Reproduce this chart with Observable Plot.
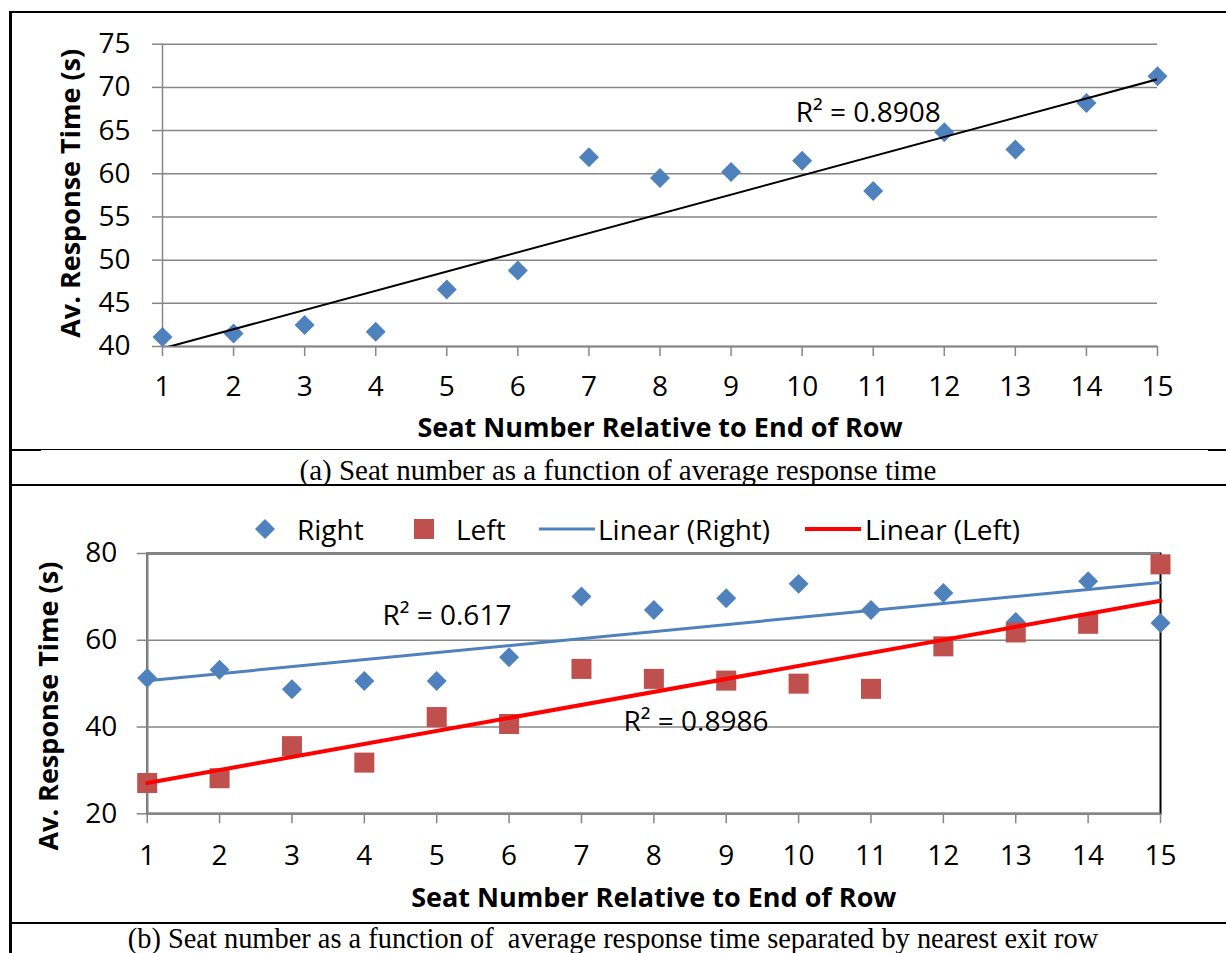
<!DOCTYPE html>
<html>
<head>
<meta charset="utf-8">
<script src="https://cdn.jsdelivr.net/npm/d3@7"></script>
<script src="https://cdn.jsdelivr.net/npm/@observablehq/plot@0.6"></script>
<style>
  html, body { margin: 0; padding: 0; background: #fff; }
  #page { position: relative; width: 1226px; height: 953px; overflow: hidden; background: #fff; }
  .hline { position: absolute; background: #000; }
  .caption { position: absolute; left: 10px; right: 0; text-align: center; font-family: "Liberation Serif", "Times New Roman", serif; font-size: 29px; line-height: 32px; white-space: pre; color: #000; }
  .abs { position: absolute; }
  #legend { position: absolute; top: 510px; left: 0; height: 38px; font-family: "Open Sans", sans-serif; font-size: 28px; color: #000; }
  #legend .item { position: absolute; top: 0; height: 38px; display: flex; align-items: center; white-space: nowrap; }
  #legend svg { display: block; flex: none; }
</style>
</head>
<body>
<div id="page">
  <div class="hline" style="left:9px;top:11px;width:1217px;height:2px"></div>
  <div class="hline" style="left:9px;top:11px;width:3px;height:942px"></div>
  <div class="hline" style="left:10px;top:449px;width:1216px;height:1px"></div>
  <div class="hline" style="left:10px;top:449px;width:31px;height:2px"></div>
  <div class="hline" style="left:1208px;top:449px;width:18px;height:2px"></div>
  <div class="hline" style="left:10px;top:484px;width:1216px;height:2px"></div>
  <div class="hline" style="left:10px;top:922px;width:1216px;height:2px"></div>
  <div id="chartA" class="abs" style="left:0;top:12px"></div>
  <div class="caption" style="top:454px">(a) Seat number as a function of average response time</div>
  <div id="legend"></div>
  <div id="chartB" class="abs" style="left:0;top:540px"></div>
  <div class="caption" style="top:923px;font-size:28.4px;left:0">(b) Seat number as a function of  average response time separated by nearest exit row</div>
</div>
<script>
// ---------- data ----------
const seats = [1, 2, 3, 4, 5, 6, 7, 8, 9, 10, 11, 12, 13, 14, 15];
const responseAll = [41.1, 41.5, 42.5, 41.7, 46.6, 48.8, 61.9, 59.5, 60.2, 61.5, 58.0, 64.8, 62.8, 68.2, 71.3];
const responseRight = [51.3, 53.2, 48.7, 50.6, 50.6, 56.1, 70.1, 67.0, 69.7, 73.0, 67.0, 70.9, 64.2, 73.6, 64.0];
const responseLeft = [27.1, 28.2, 35.6, 31.8, 42.3, 40.7, 53.4, 51.1, 50.7, 50.0, 48.8, 58.6, 61.8, 63.8, 77.5];
const yTicksA = [40, 45, 50, 55, 60, 65, 70, 75];
const yTicksB = [20, 40, 60, 80];
const seriesNames = ["Right", "Left", "Linear (Right)", "Linear (Left)"];
const xTitle = "Seat Number Relative to End of Row";
const yTitle = "Av. Response Time (s)";
const r2A = [{x: 9.91, y: 67.0, text: "R² = 0.8908"}];
const r2B = [
  {x: 4.25, y: 65.7, text: "R² = 0.617"},
  {x: 7.58, y: 41.1, text: "R² = 0.8986"}
];

// ---------- styling ----------
const GRAY = "#868686";
const BLUE = "#4F81BD";
const RED_PT = "#C0504D";
const RED_LN = "#FF0000";
const FONT = "Open Sans, sans-serif";
const FS = 28;
const FS_TITLE = 27;

const dataA = seats.map((s, i) => ({seat: s, t: responseAll[i]}));
const dataR = seats.map((s, i) => ({seat: s, t: responseRight[i]}));
const dataL = seats.map((s, i) => ({seat: s, t: responseLeft[i]}));

const baseStyle = {fontFamily: FONT, fontSize: FS + "px", color: "#000", background: "transparent", overflow: "visible"};

// ---------- chart (a) ----------
const chartA = Plot.plot({
  width: 1226,
  height: 438,
  marginLeft: 162,
  marginRight: 69,
  marginTop: 31.7,
  marginBottom: 104,
  style: baseStyle,
  x: {domain: [1, 15]},
  y: {domain: [40, 75]},
  marks: [
    Plot.gridY(yTicksA, {stroke: GRAY, strokeOpacity: 1, strokeWidth: 1.5}),
    Plot.axisY(yTicksA, {tickSize: 10, tickPadding: 22, stroke: GRAY, strokeWidth: 1.5, fill: "#000", fontSize: FS, label: null}),
    Plot.axisX(seats, {tickSize: 10, tickPadding: 20, stroke: GRAY, strokeWidth: 1.5, fill: "#000", fontSize: FS, label: null, tickFormat: d => String(d)}),
    Plot.ruleY([40], {stroke: GRAY, strokeWidth: 2}),
    Plot.ruleX([1], {stroke: GRAY, strokeWidth: 1.5}),
    Plot.dot(dataA, {x: "seat", y: "t", symbol: "diamond2", r: 9, fill: BLUE, stroke: "none"}),
    Plot.linearRegressionY(dataA, {x: "seat", y: "t", stroke: "#000", strokeWidth: 2, ci: 0, clip: true}),
    Plot.text(r2A, {x: "x", y: "y", text: "text", textAnchor: "start", lineAnchor: "middle", fontSize: FS, fill: "#000"}),
    Plot.text([xTitle], {frameAnchor: "bottom", textAnchor: "middle", lineAnchor: "middle", dy: 82, fontSize: FS_TITLE, fontWeight: "bold", fill: "#000"}),
    Plot.text([yTitle], {frameAnchor: "left", textAnchor: "middle", lineAnchor: "middle", rotate: -90, dx: -91, dy: -2, fontSize: FS_TITLE, fontWeight: "bold", fill: "#000"})
  ]
});
document.getElementById("chartA").appendChild(chartA);

// ---------- legend (b) ----------
const legend = document.getElementById("legend");
function legendItem(left, svgHtml, label, gap) {
  const d = document.createElement("div");
  d.className = "item";
  d.style.left = left + "px";
  d.innerHTML = svgHtml + `<span style="margin-left:${gap}px">${label}</span>`;
  legend.appendChild(d);
}
legendItem(255, `<svg width="20" height="20"><path d="M10,0L20,10L10,20L0,10Z" fill="${BLUE}"/></svg>`, seriesNames[0], 22);
legendItem(414, `<svg width="20" height="20"><rect x="0" y="0" width="20" height="20" fill="${RED_PT}"/></svg>`, seriesNames[1], 22);
legendItem(539, `<svg width="56" height="20"><line x1="0" y1="10" x2="56" y2="10" stroke="${BLUE}" stroke-width="3"/></svg>`, seriesNames[2], 3);
legendItem(805, `<svg width="56" height="20"><line x1="0" y1="10" x2="56" y2="10" stroke="${RED_LN}" stroke-width="4"/></svg>`, seriesNames[3], 4);

// ---------- chart (b) ----------
const chartB = Plot.plot({
  width: 1226,
  height: 383,
  marginLeft: 146.7,
  marginRight: 66,
  marginTop: 13,
  marginBottom: 109.7,
  style: baseStyle,
  x: {domain: [1, 15]},
  y: {domain: [20, 80]},
  marks: [
    Plot.frame({stroke: "#000", strokeWidth: 2}),
    Plot.gridY(yTicksB, {stroke: GRAY, strokeOpacity: 1, strokeWidth: 1.5}),
    Plot.axisY(yTicksB, {tickSize: 10, tickPadding: 20, stroke: GRAY, strokeWidth: 1.5, fill: "#000", fontSize: FS, label: null}),
    Plot.axisX(seats, {tickSize: 10, tickPadding: 21, stroke: GRAY, strokeWidth: 1.5, fill: "#000", fontSize: FS, label: null, tickFormat: d => String(d)}),
    Plot.ruleY([20], {stroke: GRAY, strokeWidth: 2.5}),
    Plot.ruleX([1], {stroke: GRAY, strokeWidth: 2}),
    Plot.dot(dataR, {x: "seat", y: "t", symbol: "diamond2", r: 9, fill: BLUE, stroke: "none"}),
    Plot.dot(dataL, {x: "seat", y: "t", symbol: "square", r: 11.3, fill: RED_PT, stroke: "none"}),
    Plot.linearRegressionY(dataR, {x: "seat", y: "t", stroke: BLUE, strokeWidth: 3, ci: 0}),
    Plot.linearRegressionY(dataL, {x: "seat", y: "t", stroke: RED_LN, strokeWidth: 4, ci: 0}),
    Plot.text(r2B, {x: "x", y: "y", text: "text", textAnchor: "start", lineAnchor: "middle", fontSize: FS, fill: "#000"}),
    Plot.text([xTitle], {frameAnchor: "bottom", textAnchor: "middle", lineAnchor: "middle", dy: 84.7, fontSize: FS_TITLE, fontWeight: "bold", fill: "#000"}),
    Plot.text([yTitle], {frameAnchor: "left", textAnchor: "middle", lineAnchor: "middle", rotate: -90, dx: -97.7, dy: 22.5, fontSize: FS_TITLE, fontWeight: "bold", fill: "#000"})
  ]
});
document.getElementById("chartB").appendChild(chartB);
</script>
</body>
</html>
